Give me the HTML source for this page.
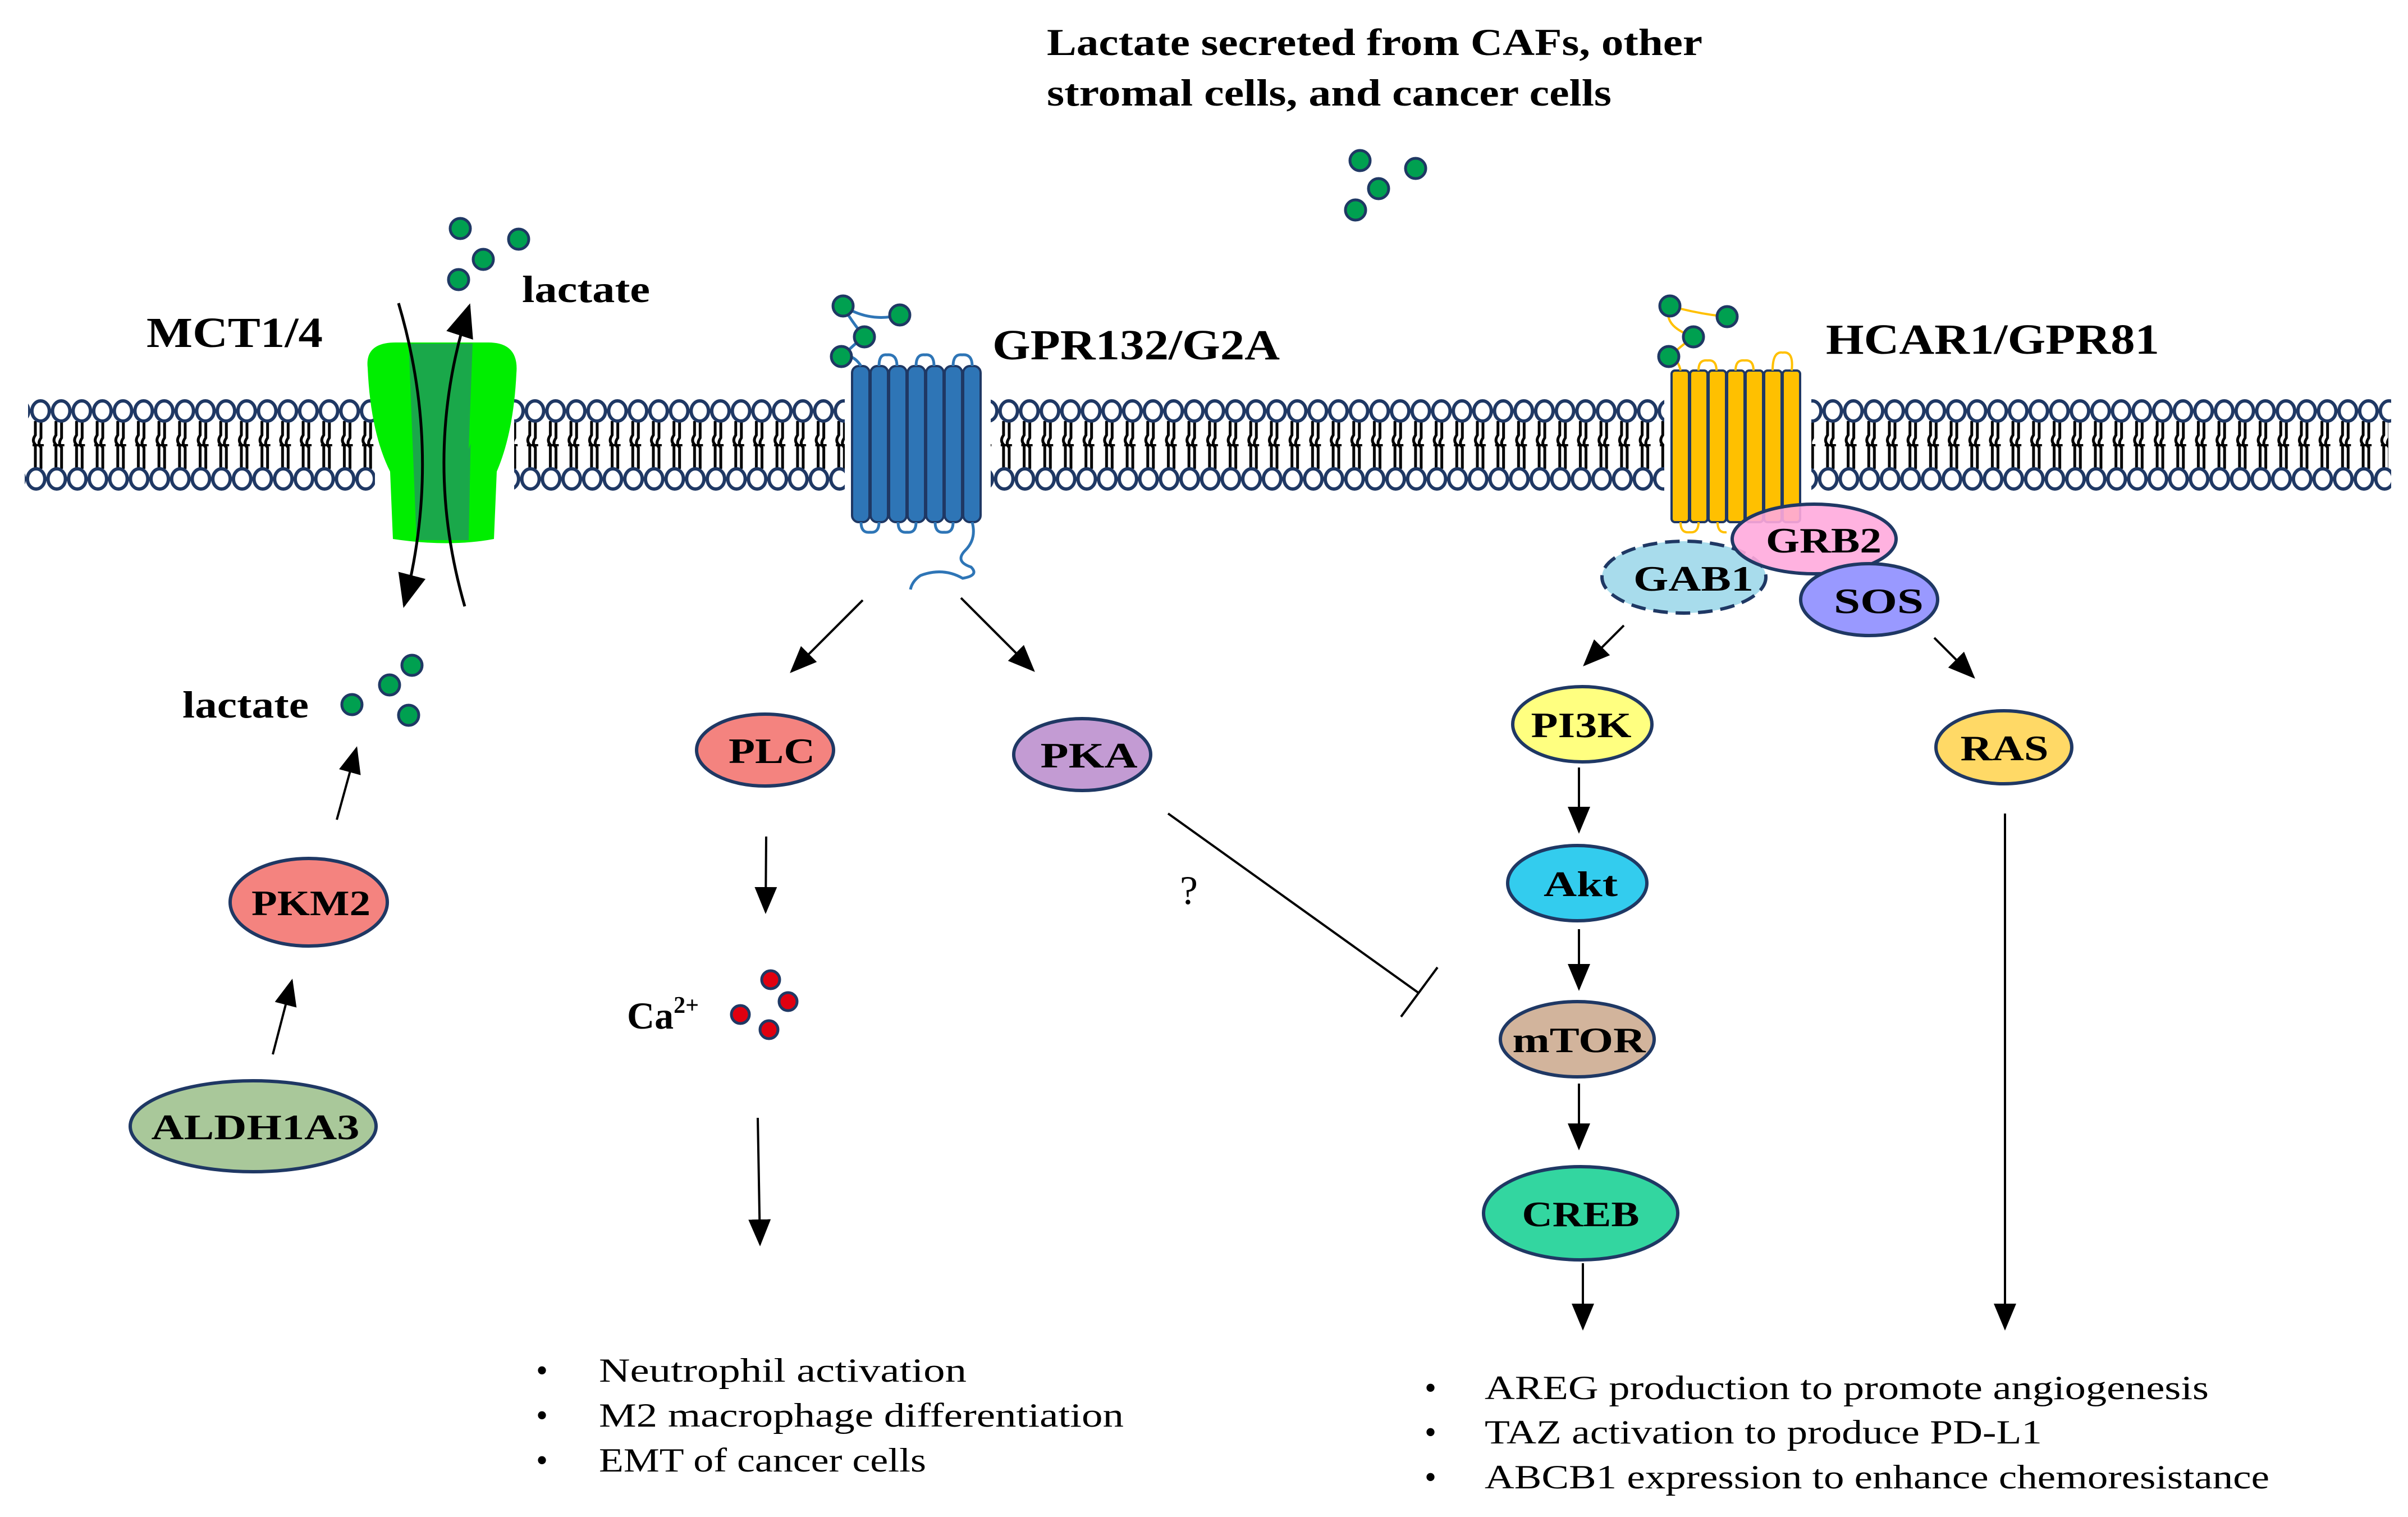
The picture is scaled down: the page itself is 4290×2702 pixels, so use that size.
<!DOCTYPE html>
<html><head><meta charset="utf-8"><style>html,body{margin:0;padding:0;background:#fff}svg{display:block}</style></head>
<body>
<svg width="4290" height="2702" viewBox="0 0 4290 2702" xmlns="http://www.w3.org/2000/svg">
<defs>
<marker id="ah" markerWidth="12" markerHeight="10" refX="11" refY="5" orient="auto" markerUnits="strokeWidth"><path d="M0,0 L12,5 L0,10 Z" fill="#000"/></marker>
<pattern id="headT" x="54" y="0" width="36.7" height="2702" patternUnits="userSpaceOnUse">
<ellipse cx="18.35" cy="732" rx="15.5" ry="18" fill="#fff" stroke="#1f3864" stroke-width="6"/>
</pattern>
<pattern id="headB" x="46" y="0" width="36.7" height="2702" patternUnits="userSpaceOnUse">
<ellipse cx="18.35" cy="853" rx="15.5" ry="18" fill="#fff" stroke="#1f3864" stroke-width="6"/>
</pattern>
<pattern id="tail" x="50" y="0" width="36.7" height="2702" patternUnits="userSpaceOnUse">
<path d="M13,750 L13,775 Q6,785 13,792 L13,835 M23,750 L23,780 Q16,790 23,797 L23,835" fill="none" stroke="#000" stroke-width="5"/>
<path d="M8,793 L28,793" stroke="#000" stroke-width="4"/>
</pattern>
</defs>
<rect width="4290" height="2702" fill="#fff"/>

<!-- membrane -->
<rect x="50" y="748" width="4205" height="90" fill="url(#tail)"/>
<rect x="50" y="710" width="4210" height="45" fill="url(#headT)"/>
<rect x="44" y="831" width="4216" height="45" fill="url(#headB)"/>
<rect x="668" y="700" width="248" height="190" fill="#fff"/>
<rect x="1505" y="700" width="260" height="190" fill="#fff"/>
<rect x="2965" y="700" width="262" height="190" fill="#fff"/>

<!-- MCT -->
<path d="M655,655 Q650,610 705,610 L870,610 Q925,610 920,665 Q915,770 885,840 L880,960 Q800,975 700,960 L695,840 Q660,770 655,655 Z" fill="#00ee00"/>
<path d="M728,612 L842,612 L835,962 L742,962 Z" fill="#1aa84a"/>
<path d="M728,612 Q690,640 700,700 L735,800 Z" fill="#00ee00"/>
<path d="M842,612 Q880,640 870,700 L835,800 Z" fill="#00ee00"/>
<path d="M710,540 Q790,810 720,1078" fill="none" stroke="#000" stroke-width="5" marker-end="url(#ah)"/>
<path d="M828,1080 Q750,810 836,545" fill="none" stroke="#000" stroke-width="5" marker-end="url(#ah)"/>

<!-- GPR132 -->
<g stroke="#1f3864" stroke-width="4" fill="#2e75b6">
<rect x="1518" y="652" width="31" height="278" rx="12"/>
<rect x="1551" y="652" width="31" height="278" rx="12"/>
<rect x="1584" y="652" width="31" height="278" rx="12"/>
<rect x="1617" y="652" width="31" height="278" rx="12"/>
<rect x="1650" y="652" width="31" height="278" rx="12"/>
<rect x="1683" y="652" width="31" height="278" rx="12"/>
<rect x="1716" y="652" width="31" height="278" rx="12"/>
</g>
<g fill="none" stroke="#2e75b6" stroke-width="5">
<path d="M1566,652 Q1566,630 1580,632 Q1598,630 1598,652"/>
<path d="M1632,652 Q1632,630 1648,632 Q1664,630 1664,652"/>
<path d="M1698,652 Q1698,630 1714,632 Q1732,630 1732,652"/>
<path d="M1534,930 Q1534,950 1550,948 Q1566,950 1566,930"/>
<path d="M1600,930 Q1600,950 1616,948 Q1632,950 1632,930"/>
<path d="M1666,930 Q1666,950 1682,948 Q1698,950 1698,930"/>
<path d="M1732,930 Q1740,960 1720,980 Q1700,1000 1730,1010 Q1745,1025 1715,1030 Q1680,1010 1640,1025 Q1625,1035 1622,1050"/>
<path d="M1534,652 Q1520,630 1500,635 M1500,635 Q1525,610 1540,600 M1540,600 Q1515,570 1502,545 M1502,545 Q1550,575 1603,561"/>
</g>

<!-- HCAR1 -->
<g stroke="#1f3864" stroke-width="4" fill="#ffc000">
<rect x="2978" y="660" width="31" height="270" rx="6"/>
<rect x="3011" y="660" width="31" height="270" rx="6"/>
<rect x="3044" y="660" width="31" height="270" rx="6"/>
<rect x="3077" y="660" width="31" height="270" rx="6"/>
<rect x="3110" y="660" width="31" height="270" rx="6"/>
<rect x="3143" y="660" width="31" height="270" rx="6"/>
<rect x="3176" y="660" width="31" height="270" rx="6"/>
</g>
<g fill="none" stroke="#ffc000" stroke-width="4">
<path d="M3026,660 Q3026,640 3042,642 Q3058,640 3058,660"/>
<path d="M3092,660 Q3092,640 3108,642 Q3124,640 3124,660"/>
<path d="M3158,660 Q3158,625 3176,628 Q3196,625 3192,660"/>
<path d="M2994,660 Q2990,640 2975,635 M2975,545 Q2960,580 3017,600 Q2990,620 2975,635 M2975,545 Q3030,560 3077,564"/>
<path d="M2994,930 Q2994,950 3010,948 Q3026,950 3026,930 M3060,930 Q3060,950 3076,948"/>
</g>

<!-- membrane-bound ellipses -->
<ellipse cx="3000" cy="1028" rx="146" ry="64" fill="#a8dcec" stroke="#1f3864" stroke-width="6" stroke-dasharray="26,14"/>
<ellipse cx="3232" cy="960" rx="146" ry="62" fill="#ffaadd" fill-opacity="0.9" stroke="#1f3864" stroke-width="6"/>
<ellipse cx="3330" cy="1068" rx="122" ry="64" fill="#9999ff" stroke="#1f3864" stroke-width="6"/>

<!-- other ellipses -->
<g stroke="#1f3864" stroke-width="6">
<ellipse cx="550" cy="1607" rx="140" ry="78" fill="#f4837f"/>
<ellipse cx="451" cy="2006" rx="219" ry="81" fill="#a9c89a"/>
<ellipse cx="1363" cy="1336" rx="122" ry="64" fill="#f4837f"/>
<ellipse cx="1928" cy="1344" rx="122" ry="64" fill="#c39bd3"/>
<ellipse cx="2819" cy="1290" rx="124" ry="67" fill="#ffff80"/>
<ellipse cx="3570" cy="1331" rx="121" ry="65" fill="#ffd966"/>
<ellipse cx="2810" cy="1573" rx="124" ry="67" fill="#33ccee"/>
<ellipse cx="2810" cy="1851" rx="137" ry="67" fill="#d2b49c"/>
<ellipse cx="2816" cy="2161" rx="173" ry="83" fill="#33d6a0"/>
</g>

<!-- lactate dots -->
<g fill="#00a050" stroke="#1f3864" stroke-width="5">
<circle cx="2423" cy="286" r="18"/><circle cx="2522" cy="300" r="18"/><circle cx="2456" cy="336" r="18"/><circle cx="2415" cy="374" r="18"/>
<circle cx="820" cy="407" r="18"/><circle cx="861" cy="462" r="18"/><circle cx="924" cy="426" r="18"/><circle cx="817" cy="498" r="18"/>
<circle cx="627" cy="1255" r="18"/><circle cx="694" cy="1220" r="18"/><circle cx="734" cy="1185" r="18"/><circle cx="728" cy="1274" r="18"/>
<circle cx="1502" cy="545" r="18"/><circle cx="1603" cy="561" r="18"/><circle cx="1540" cy="600" r="18"/><circle cx="1499" cy="635" r="18"/>
<circle cx="2975" cy="545" r="18"/><circle cx="3077" cy="564" r="18"/><circle cx="3017" cy="600" r="18"/><circle cx="2973" cy="635" r="18"/>
</g>
<g fill="#e00010" stroke="#1f3864" stroke-width="5">
<circle cx="1373" cy="1745" r="16"/><circle cx="1404" cy="1784" r="16"/><circle cx="1319" cy="1807" r="16"/><circle cx="1370" cy="1834" r="16"/>
</g>

<!-- arrows -->
<g stroke="#000" stroke-width="4" fill="none" marker-end="url(#ah)">
<line x1="600" y1="1460" x2="635" y2="1333"/>
<line x1="486" y1="1878" x2="520" y2="1747"/>
<line x1="1537" y1="1069" x2="1410" y2="1196"/>
<line x1="1712" y1="1065" x2="1841" y2="1194"/>
<line x1="1365" y1="1490" x2="1364" y2="1624"/>
<line x1="1350" y1="1991" x2="1354" y2="2216"/>
<line x1="2893" y1="1114" x2="2823" y2="1184"/>
<line x1="3446" y1="1136" x2="3516" y2="1206"/>
<line x1="2813" y1="1367" x2="2813" y2="1481"/>
<line x1="2813" y1="1655" x2="2813" y2="1761"/>
<line x1="2813" y1="1930" x2="2813" y2="2045"/>
<line x1="2820" y1="2250" x2="2820" y2="2366"/>
<line x1="3572" y1="1449" x2="3572" y2="2366"/>
</g>
<line x1="2081" y1="1449" x2="2528" y2="1769" stroke="#000" stroke-width="4"/>
<line x1="2561" y1="1723" x2="2496" y2="1811" stroke="#000" stroke-width="4"/>

<!-- text -->
<g font-family="Liberation Serif, serif" fill="#000">
<g font-weight="bold">
<text x="1865" y="98" font-size="68" textLength="1168" lengthAdjust="spacingAndGlyphs">Lactate secreted from CAFs, other</text>
<text x="1865" y="188" font-size="68" textLength="1006" lengthAdjust="spacingAndGlyphs">stromal cells, and cancer cells</text>
<text x="261" y="618" font-size="76" textLength="314" lengthAdjust="spacingAndGlyphs">MCT1/4</text>
<text x="930" y="538" font-size="68" textLength="228" lengthAdjust="spacingAndGlyphs">lactate</text>
<text x="325" y="1278" font-size="68" textLength="225" lengthAdjust="spacingAndGlyphs">lactate</text>
<text x="1768" y="640" font-size="76" textLength="512" lengthAdjust="spacingAndGlyphs">GPR132/G2A</text>
<text x="3253" y="630" font-size="76" textLength="594" lengthAdjust="spacingAndGlyphs">HCAR1/GPR81</text>
<g font-size="64" text-anchor="middle">
<text x="554" y="1630" textLength="212" lengthAdjust="spacingAndGlyphs">PKM2</text>
<text x="455" y="2029" textLength="371" lengthAdjust="spacingAndGlyphs">ALDH1A3</text>
<text x="1375" y="1359" textLength="154" lengthAdjust="spacingAndGlyphs">PLC</text>
<text x="1940" y="1367" textLength="173" lengthAdjust="spacingAndGlyphs">PKA</text>
<text x="3017" y="1052" textLength="214" lengthAdjust="spacingAndGlyphs">GAB1</text>
<text x="3249" y="984" textLength="206" lengthAdjust="spacingAndGlyphs">GRB2</text>
<text x="3347" y="1092" textLength="160" lengthAdjust="spacingAndGlyphs">SOS</text>
<text x="2817" y="1313" textLength="179" lengthAdjust="spacingAndGlyphs">PI3K</text>
<text x="3571" y="1354" textLength="157" lengthAdjust="spacingAndGlyphs">RAS</text>
<text x="2816" y="1596" textLength="132" lengthAdjust="spacingAndGlyphs">Akt</text>
<text x="2813" y="1874" textLength="237" lengthAdjust="spacingAndGlyphs">mTOR</text>
<text x="2816" y="2184" textLength="209" lengthAdjust="spacingAndGlyphs">CREB</text>
</g>
<text x="1117" y="1832" font-size="68">Ca<tspan font-size="42" dy="-28">2+</tspan></text>
</g>
<text x="2102" y="1610" font-size="72">?</text>
<g font-size="60">
<text x="955" y="2461">•</text><text x="955" y="2541">•</text><text x="955" y="2621">•</text>
<text x="1067" y="2461" textLength="655" lengthAdjust="spacingAndGlyphs">Neutrophil activation</text>
<text x="1067" y="2541" textLength="935" lengthAdjust="spacingAndGlyphs">M2 macrophage differentiation</text>
<text x="1067" y="2621" textLength="583" lengthAdjust="spacingAndGlyphs">EMT of cancer cells</text>
<text x="2538" y="2492">•</text><text x="2538" y="2571">•</text><text x="2538" y="2651">•</text>
<text x="2645" y="2492" textLength="1290" lengthAdjust="spacingAndGlyphs">AREG production to promote angiogenesis</text>
<text x="2645" y="2571" textLength="993" lengthAdjust="spacingAndGlyphs">TAZ activation to produce PD-L1</text>
<text x="2645" y="2651" textLength="1398" lengthAdjust="spacingAndGlyphs">ABCB1 expression to enhance chemoresistance</text>
</g>
</g>
</svg>
</body></html>
